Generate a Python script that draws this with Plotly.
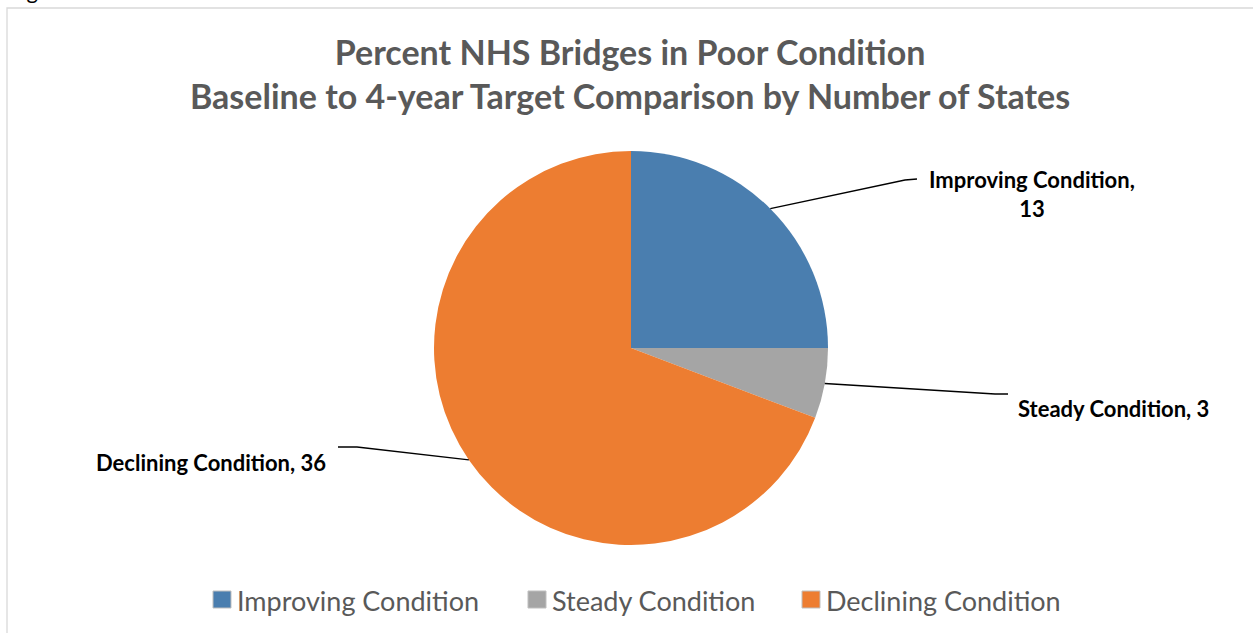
import math
import plotly.graph_objects as go

# Number of states by 4-year target direction for NHS bridges in poor condition
categories = ["Improving Condition", "Steady Condition", "Declining Condition"]
states = [13, 3, 36]
colors = ["#4A7EAF", "#A5A5A5", "#ED7D31"]

W, H = 1253, 633
CX, CY, R = 631, 348, 197  # pie centre and radius in pixels
FONT = "Lato, 'Open Sans', sans-serif"


def px(x):
    return x / W


def py(y):
    return 1 - y / H


fig = go.Figure(
    go.Pie(
        labels=categories,
        values=states,
        marker=dict(colors=colors, line=dict(color="white", width=0)),
        sort=False,
        direction="clockwise",
        rotation=0,
        textinfo="none",
        hoverinfo="label+value",
        showlegend=False,
        domain=dict(x=[px(CX - R), px(CX + R)], y=[py(CY + R), py(CY - R)]),
    )
)

# Leader lines start at the mid-angle of each slice on the pie rim
total = sum(states)
cum = 0
rim = []
for v in states:
    mid = (cum + v / 2) / total * 2 * math.pi
    rim.append((CX + R * math.sin(mid), CY - R * math.cos(mid)))
    cum += v

label_paths = [
    [(905, 180), (917, 179)],
    [(995, 394), (1008, 394)],
    [(357, 447), (338, 447)],
]

shapes = []
for (sx, sy), pts in zip(rim, label_paths):
    coords = [(sx, sy)] + pts
    path = "M " + " L ".join(f"{px(x)},{py(y)}" for x, y in coords)
    shapes.append(dict(type="path", xref="paper", yref="paper", path=path,
                       line=dict(color="black", width=1.3)))

# Chart frame
shapes.append(dict(type="rect", xref="paper", yref="paper",
                   x0=px(7), x1=px(1265), y0=py(645), y1=py(8),
                   line=dict(color="#D9D9D9", width=1.3), fillcolor="rgba(0,0,0,0)",
                   layer="below"))

lab_font = dict(family=FONT, size=22, color="black")
annotations = [
    dict(x=px(1032), y=py(194), text=f"<b>{categories[0]},<br>{states[0]}</b>",
         xanchor="center", yanchor="middle", showarrow=False, align="center",
         font=lab_font),
    dict(x=px(1016), y=py(408), text=f"<b>{categories[1]}, {states[1]}</b>",
         xanchor="left", yanchor="middle", showarrow=False, font=lab_font),
    dict(x=px(328), y=py(462), text=f"<b>{categories[2]}, {states[2]}</b>",
         xanchor="right", yanchor="middle", showarrow=False, font=lab_font),
    dict(x=px(630), y=py(73),
         text="<b>Percent NHS Bridges in Poor Condition<br>"
              "Baseline to 4-year Target Comparison by Number of States</b>",
         xanchor="center", yanchor="middle", showarrow=False, align="center",
         font=dict(family=FONT, size=34, color="#595959")),
    # tail of the preceding text on the page
    dict(x=px(-2), y=py(6), text="target", xanchor="left", yanchor="bottom",
         showarrow=False, font=dict(family=FONT, size=22, color="black")),
]

# Legend: square swatch followed by the category name
legend_x = [213, 528, 802]
for name, col, lx in zip(categories, colors, legend_x):
    shapes.append(dict(type="rect", xref="paper", yref="paper",
                       x0=px(lx), x1=px(lx + 18), y0=py(608), y1=py(591),
                       fillcolor=col, line=dict(color="#BFBFBF", width=1)))
    annotations.append(dict(x=px(lx + 22), y=py(600), text=name,
                            xanchor="left", yanchor="middle", showarrow=False,
                            font=dict(family=FONT, size=27, color="#595959")))

fig.update_layout(
    width=W, height=H,
    margin=dict(l=0, r=0, t=0, b=0),
    paper_bgcolor="white",
    plot_bgcolor="white",
    shapes=shapes,
    annotations=annotations,
    showlegend=False,
)

fig.write_html("out.html")
